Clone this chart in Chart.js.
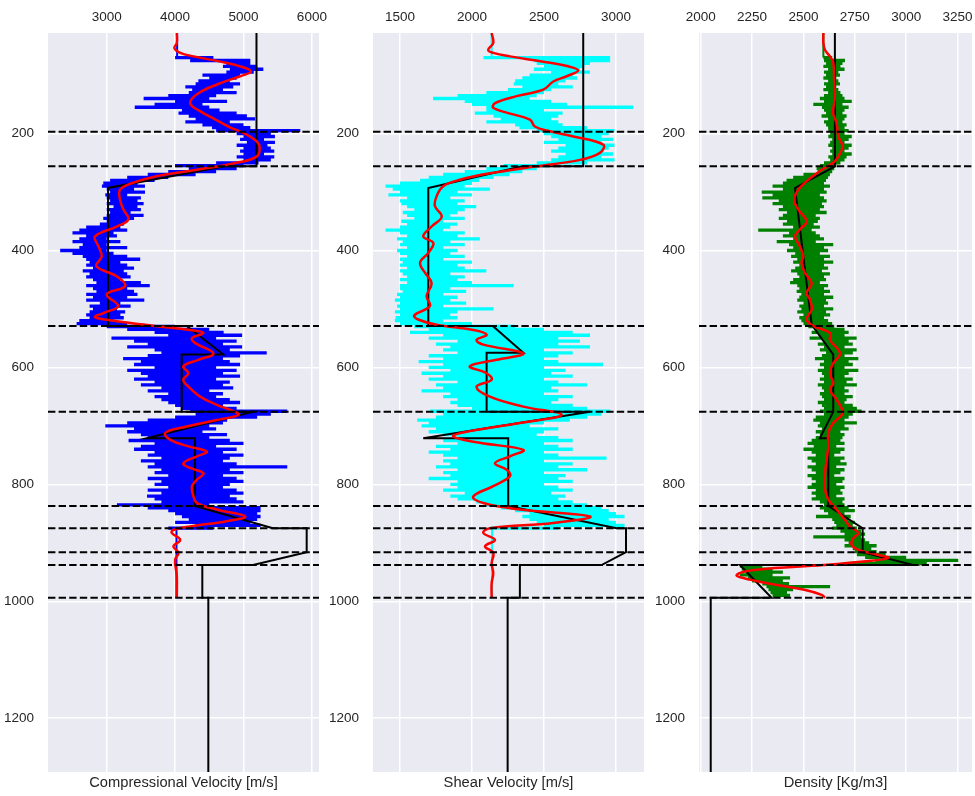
<!DOCTYPE html>
<html><head><meta charset="utf-8">
<script src="https://cdn.jsdelivr.net/npm/chart.js@4/dist/chart.umd.min.js"></script>
<style>
html,body{margin:0;padding:0;background:#fff;overflow:hidden;width:975px;height:796px;}
canvas{position:absolute;top:0;}
</style></head><body>
<canvas id="c1" width="345" height="796" style="left:0px"></canvas>
<canvas id="c2" width="345" height="796" style="left:325px"></canvas>
<canvas id="c3" width="350" height="796" style="left:650px"></canvas>
<script>
// ---------------- DATA ----------------
const depthTicks = [200, 400, 600, 800, 1000, 1200];
const depthMin = 28, depthMax = 1292;
const horizons = [197, 256, 529, 676, 837, 875, 916, 938, 994];

const vpTicks = [3000, 4000, 5000, 6000];
const vsTicks = [1500, 2000, 2500, 3000];
const rhoTicks = [2000, 2250, 2500, 2750, 3000, 3250];

// raw logs, read as min / max per 5 m depth bin starting at 70 m
const logTopDepth = 28, logStart = 70, logStep = 5, logBottom = 994;
const vpTop = 4030, vpBottom = 4020;
const vsTop = 2137, vsBottom = 2140;
const rhoTop = 2597;

const vpMin = [
4000,4220,4750,4700,4800,4750,4400,4500,4340,4300,
4150,4250,4200,3900,3540,4000,3700,3410,4100,4050,
4200,4300,4150,4400,4540,4600,4900,5000,4950,5050,
4900,5000,4950,5000,4900,5000,4600,4000,4200,3900,
3600,3300,3050,2950,2930,3000,3050,2980,3000,3050,
3000,3100,3000,3050,3000,2950,3000,2900,2700,2600,
2500,2700,2600,2500,2650,2600,2320,2500,2650,2700,
2750,2700,2800,2650,2750,2700,2800,2850,2700,2800,
2850,2700,2800,2700,2900,2750,2800,2750,2700,2750,
2600,2560,3000,3300,3700,3900,3070,3400,3600,3300,
3700,3800,3600,3240,3500,3400,3700,3300,3500,3600,
3400,3700,3500,3800,3600,3900,3700,3800,3900,4000,
4100,4220,4300,4000,3600,3300,2980,3400,3300,3500,
3600,3320,3700,3500,3400,3700,3600,3800,3500,3700,
3600,3800,3700,3900,3600,3800,3700,3900,3600,3800,
3590,3700,3800,3150,3600,3900,4000,4100,4200,4000,
4300,3900];
const vpMax = [
4560,5100,5100,5200,5290,5150,4950,4900,4800,4950,
4850,4700,4900,4600,4500,4760,4400,4500,4650,4900,
5050,5170,4800,5000,5100,5830,5400,5460,5300,5460,
5350,5400,5450,5300,5450,5400,5220,5000,4900,4600,
4300,3900,3700,3450,3560,3400,3560,3300,3500,3450,
3540,3450,3500,3350,3540,3400,3300,3250,3200,3300,
3100,3150,3000,3200,3000,3300,3000,3100,3300,3490,
3200,3300,3400,3250,3300,3350,3200,3500,3630,3300,
3400,3450,3300,3550,3200,3350,3150,3270,3200,3250,
3100,3300,4000,4500,4710,4980,4600,4900,4700,4980,
4800,5340,4950,4700,4800,4950,4600,4900,4700,4950,
4600,4800,4700,4850,4500,4700,4600,4800,4950,4700,
4900,5640,5400,5200,4760,4700,4500,4600,4400,4760,
4500,4800,5000,4600,4900,4700,5000,4800,4700,4900,
5640,4800,5000,4700,4900,5000,4800,4700,4900,5000,
4800,4900,5000,4500,5250,5250,5200,5250,5200,5100,
5250,4560];

const vsMin = [
2080,2430,2450,2500,2430,2550,2400,2350,2300,2290,
2350,2250,2100,1900,1730,1950,2000,2100,2100,2020,
2150,2200,2100,2300,2330,2450,2500,2550,2600,2500,
2650,2600,2550,2650,2600,2550,2450,2220,2100,1950,
1800,1700,1640,1500,1400,1450,1500,1420,1550,1500,
1510,1550,1600,1520,1550,1600,1510,1550,1500,1400,
1500,1550,1480,1520,1500,1550,1480,1500,1550,1500,
1520,1500,1550,1500,1520,1550,1500,1550,1500,1500,
1520,1480,1500,1465,1500,1480,1500,1465,1500,1470,
1465,1500,1600,1700,1570,1800,1700,1900,1750,1850,
1800,1900,1700,1800,1630,1800,1700,1850,1650,1800,
1700,1900,1750,1800,1650,1850,1800,1900,1850,1900,
2000,1710,1800,1750,1620,1700,1650,1750,1700,1800,
1900,1800,1900,1750,1850,1700,1800,1900,1800,1850,
1750,1900,1800,1850,1700,1900,1850,1900,1800,1950,
1850,1900,2030,2100,2200,2300,2400,2350,2400,2450,
2500,2130];
const vsMax = [
2960,2960,2820,2780,2750,2820,2700,2730,2650,2600,
2700,2550,2500,2450,2400,2550,2660,3120,2500,2630,
2600,2550,2600,2630,2800,2990,2950,2900,2980,2900,
2990,2950,2900,2980,2900,2990,2800,2540,2450,2350,
2260,2150,2050,2000,1950,2125,1900,2000,1850,1950,
1900,2030,1950,1900,1850,1950,1800,1900,1850,1800,
1950,1900,2055,1850,1950,1800,1900,1850,1950,1800,
2000,1900,1950,2100,1850,1950,1900,2000,2290,1850,
1960,1800,1900,1850,1960,1800,2150,1900,1850,1900,
1800,2000,2300,2500,2700,2820,2600,2750,2600,2820,
2500,2700,2600,2500,2600,2910,2500,2650,2550,2700,
2500,2600,2800,2550,2600,2500,2700,2600,2550,2700,
2800,2960,2900,2800,2680,2500,2400,2600,2500,2450,
2600,2700,2500,2600,2700,2500,2600,2935,2500,2700,
2600,2800,2500,2650,2600,2700,2500,2600,2700,2550,
2650,2600,2700,2800,2900,2950,3000,3060,2950,3000,
3060,2600];

const rhoMin = [
2597,2600,2610,2597,2620,2600,2610,2597,2620,2600,
2610,2597,2620,2600,2580,2600,2548,2590,2600,2610,
2588,2620,2600,2610,2620,2621,2630,2621,2640,2630,
2621,2640,2630,2640,2621,2630,2600,2580,2564,2570,
2500,2450,2418,2400,2350,2400,2297,2350,2300,2380,
2350,2400,2380,2420,2400,2380,2420,2400,2450,2280,
2430,2400,2450,2370,2430,2450,2420,2460,2440,2470,
2450,2480,2460,2440,2470,2480,2450,2435,2470,2480,
2467,2490,2480,2470,2500,2480,2490,2470,2500,2480,
2490,2500,2524,2560,2540,2580,2530,2600,2570,2600,
2580,2610,2590,2556,2600,2580,2600,2570,2590,2600,
2580,2600,2570,2590,2600,2580,2590,2600,2570,2590,
2600,2580,2600,2560,2548,2580,2570,2590,2560,2580,
2560,2540,2520,2550,2500,2540,2560,2520,2540,2560,
2520,2540,2560,2520,2540,2560,2540,2520,2560,2540,
2560,2540,2580,2600,2580,2600,2620,2561,2640,2650,
2660,2640,2680,2700,2548,2700,2720,2700,2740,2750,
2760,2800,2850,2726,2191,2200,2220,2191,2230,2250,
2300,2320,2330,2340,2350];
const rhoMax = [
2640,2702,2690,2680,2700,2670,2678,2660,2670,2678,
2660,2670,2680,2690,2700,2735,2690,2720,2700,2690,
2710,2700,2690,2710,2700,2720,2700,2735,2720,2700,
2735,2720,2700,2735,2710,2700,2680,2660,2650,2640,
2629,2620,2610,2600,2629,2600,2613,2580,2600,2613,
2590,2600,2580,2613,2560,2580,2570,2550,2580,2540,
2560,2580,2600,2560,2645,2600,2620,2580,2629,2600,
2645,2600,2620,2590,2629,2600,2610,2580,2620,2600,
2629,2600,2645,2610,2620,2600,2645,2610,2630,2600,
2620,2640,2650,2700,2720,2700,2759,2720,2740,2700,
2759,2740,2700,2767,2720,2740,2700,2767,2720,2700,
2740,2710,2760,2700,2720,2700,2740,2710,2700,2740,
2760,2783,2740,2720,2700,2760,2700,2720,2680,2700,
2690,2680,2700,2660,2700,2680,2650,2700,2680,2710,
2660,2700,2680,2650,2700,2690,2660,2700,2680,2690,
2660,2700,2690,2700,2720,2750,2700,2730,2720,2750,
2740,2760,2780,2800,2780,2800,2820,2856,2830,2856,
2900,3000,3253,3100,2300,2350,2400,2350,2435,2400,
2430,2630,2450,2420,2435];

// smoothed logs (red)
const vpSmoothDepth = [28,45,54,62,68,77,85,94,102,114,131,148,162,176,188,199,211,222,239,250,262,273,285,296,313,330,347,359,376,393,410,427,444,461,475,495,507,514,521,529,536,541,550,558,576,587,598,610,621,633,650,664,675,681,690,701,712,724,735,744,752,764,772,781,792,804,821,832,843,855,863,872,878,883,895,906,917,929,957,994];
const vpSmooth = [4025,4025,3990,4075,4270,4660,4950,5110,4950,4660,4340,4220,4370,4590,4780,5000,5170,5235,5195,4900,4320,3730,3365,3195,3195,3245,3317,3146,2830,2880,2927,2850,3146,3270,3000,3170,2950,2830,3150,3700,4220,4415,4245,4290,4560,4340,4120,4195,4120,4195,4365,4610,4855,4930,4610,4170,3855,3930,4195,4465,4320,4120,4220,4415,4320,4245,4270,4320,4610,5025,4755,4220,3975,3950,4075,3975,4050,4000,4025,4025];

const vsSmoothDepth = [28,45,57,62,68,77,85,92,102,111,125,136,148,156,165,176,188,196,205,219,233,245,256,268,279,290,307,324,342,359,376,387,404,421,438,456,478,495,511,518,527,536,544,553,561,576,587,598,610,621,633,650,667,681,695,709,718,729,741,752,764,775,786,803,821,832,843,855,866,875,883,895,906,917,935,952,969,994];
const vsSmooth = [2137,2148,2113,2148,2264,2495,2669,2738,2658,2565,2495,2310,2160,2148,2252,2403,2437,2542,2704,2912,2889,2750,2449,2125,1917,1801,1755,1743,1790,1720,1662,1732,1697,1640,1674,1720,1685,1708,1600,1627,1755,2009,2102,2032,2079,2357,2171,1986,2102,2137,2032,2125,2357,2623,2333,1986,1870,2056,2357,2264,2160,2241,2264,2148,2009,2079,2333,2820,2565,2125,2079,2160,2091,2148,2137,2148,2137,2137];

const rhoSmoothDepth = [28,45,57,68,79,108,136,165,182,205,222,239,250,262,279,296,313,330,350,364,376,393,410,421,438,456,473,484,501,518,529,541,553,570,578,593,610,627,638,655,678,695,712,735,758,781,809,826,843,861,872,883,892,903,912,920,926,932,938,946,955,963,972,980,989,994];
const rhoSmooth = [2597,2597,2605,2629,2645,2649,2653,2645,2661,2670,2690,2670,2645,2589,2524,2475,2455,2475,2515,2483,2459,2483,2499,2491,2507,2540,2515,2532,2540,2515,2548,2629,2629,2670,2678,2645,2629,2645,2629,2661,2690,2645,2621,2621,2613,2605,2605,2621,2661,2702,2726,2767,2743,2734,2767,2856,2913,2791,2597,2272,2175,2240,2370,2499,2589,2605];

// blocked model (black)
const vpBlockDepth = [28,256,256,293,529,529,578,578,676,676,721,721,837,875,875,916,938,938,994,994,1300];
const vpBlock = [5190,5190,4730,3020,3020,4170,4705,4096,4096,5140,3585,4290,4290,5430,5924,5924,5140,4398,4398,4486,4486];
const vsBlockDepth = [28,256,256,293,529,529,575,575,676,676,721,721,837,875,875,916,938,938,994,994,1300];
const vsBlock = [2773,2773,2350,1697,1697,2145,2357,2102,2102,2820,1662,2252,2252,3005,3070,3070,2900,2333,2333,2248,2248];
const rhoBlockDepth = [28,256,293,527,578,676,721,721,837,875,916,938,938,994,994,1300];
const rhoBlock = [2653,2653,2459,2540,2645,2645,2580,2621,2621,2788,2788,3034,2191,2345,2049,2049];

// ---------------- RENDER ----------------
const FONT = "'Liberation Sans', Arial, sans-serif";
const TXT = '#262626';

function binPoints(mins, maxs) {
  const pts = [];
  mins.forEach((v, i) => {
    const d = logStart + i * logStep;
    pts.push({x: v, y: d}, {x: maxs[i], y: d}, {x: null, y: null});
  });
  return pts;
}
function pairPoints(depths, vals) { return depths.map((d, i) => ({x: vals[i], y: d})); }

const bgPlugin = {
  id: 'bg',
  beforeDraw(chart) {
    const {ctx, chartArea: a} = chart;
    ctx.save(); ctx.fillStyle = '#EAEAF2';
    ctx.fillRect(a.left, a.top, a.right - a.left, a.bottom - a.top);
    ctx.restore();
  }
};

function makePanel(id, p) {
  const datasets = [];
  horizons.forEach(h => datasets.push({
    data: [{x: p.xMin, y: h}, {x: p.xMax, y: h}],
    borderColor: '#000', borderWidth: 2, borderDash: [7.4, 3.2],
    pointRadius: 0, showLine: true, order: 0
  }));
  datasets.push({data: pairPoints(p.smoothDepth, p.smooth), borderColor: '#FF0000', borderWidth: 2.5,
    pointRadius: 0, showLine: true, tension: 0.4, order: 1});
  datasets.push({data: pairPoints(p.blockDepth, p.block), borderColor: '#000', borderWidth: 2,
    pointRadius: 0, showLine: true, tension: 0, order: 2});
  datasets.push({data: binPoints(p.logMin, p.logMax), borderColor: p.logColor, borderWidth: 3.3,
    pointRadius: 0, showLine: true, spanGaps: false, tension: 0, order: 3});
  const thin = [{x: p.top, y: logTopDepth}, {x: p.top, y: logStart}];
  if (p.bottom !== null) {
    const lastDepth = logStart + (p.logMin.length - 1) * logStep;
    thin.push({x: null, y: null}, {x: p.bottom, y: lastDepth}, {x: p.bottom, y: logBottom});
  }
  datasets.push({data: thin, borderColor: p.logColor, borderWidth: 2,
    pointRadius: 0, showLine: true, spanGaps: false, order: 3});

  new Chart(document.getElementById(id), {
    type: 'scatter',
    data: {datasets},
    options: {
      responsive: false, animation: false, devicePixelRatio: 1, events: [],
      layout: {padding: {left: 0, right: p.padRight, top: 0, bottom: 0}},
      plugins: {legend: {display: false}, tooltip: {enabled: false}},
      scales: {
        x: {
          type: 'linear', position: 'top', min: p.xMin, max: p.xMax,
          afterFit: s => { s.height = 33; },
          afterBuildTicks: s => { s.ticks = p.xTicks.map(v => ({value: v})); },
          grid: {color: '#FFFFFF', lineWidth: 1.5, drawTicks: false},
          border: {display: false},
          ticks: {color: TXT, font: {family: FONT, size: 13.5}, padding: 8, maxRotation: 0,
                  callback: v => String(v)}
        },
        x2: {
          type: 'linear', position: 'bottom', min: p.xMin, max: p.xMax,
          afterFit: s => { s.height = 24; },
          grid: {display: false, drawTicks: false}, border: {display: false},
          ticks: {display: false},
          title: {display: true, text: p.label, color: TXT, font: {family: FONT, size: 14.7},
                  padding: {top: 0, bottom: 4}}
        },
        y: {
          type: 'linear', position: 'left', reverse: true, min: depthMin, max: depthMax,
          afterFit: s => { s.width = p.yWidth; },
          afterBuildTicks: s => { s.ticks = depthTicks.map(v => ({value: v})); },
          grid: {color: '#FFFFFF', lineWidth: 1.5, drawTicks: false},
          border: {display: false},
          ticks: {color: TXT, font: {family: FONT, size: 13.5}, padding: 14,
                  callback: v => String(v)}
        }
      }
    },
    plugins: [bgPlugin]
  });
}

makePanel('c1', {xMin: 2142, xMax: 6104, xTicks: vpTicks, label: 'Compressional Velocity [m/s]',
  logColor: '#0000FF', logMin: vpMin, logMax: vpMax, top: vpTop, bottom: vpBottom,
  smoothDepth: vpSmoothDepth, smooth: vpSmooth,
  blockDepth: vpBlockDepth, block: vpBlock, yWidth: 48, padRight: 26});
makePanel('c2', {xMin: 1313, xMax: 3195, xTicks: vsTicks, label: 'Shear Velocity [m/s]',
  logColor: '#00FFFF', logMin: vsMin, logMax: vsMax, top: vsTop, bottom: vsBottom,
  smoothDepth: vsSmoothDepth, smooth: vsSmooth,
  blockDepth: vsBlockDepth, block: vsBlock, yWidth: 48, padRight: 26});
makePanel('c3', {xMin: 1992, xMax: 3320, xTicks: rhoTicks, label: 'Density [Kg/m3]',
  logColor: '#008000', logMin: rhoMin, logMax: rhoMax, top: rhoTop, bottom: null,
  smoothDepth: rhoSmoothDepth, smooth: rhoSmooth,
  blockDepth: rhoBlockDepth, block: rhoBlock, yWidth: 49, padRight: 28});
</script>
</body></html>
